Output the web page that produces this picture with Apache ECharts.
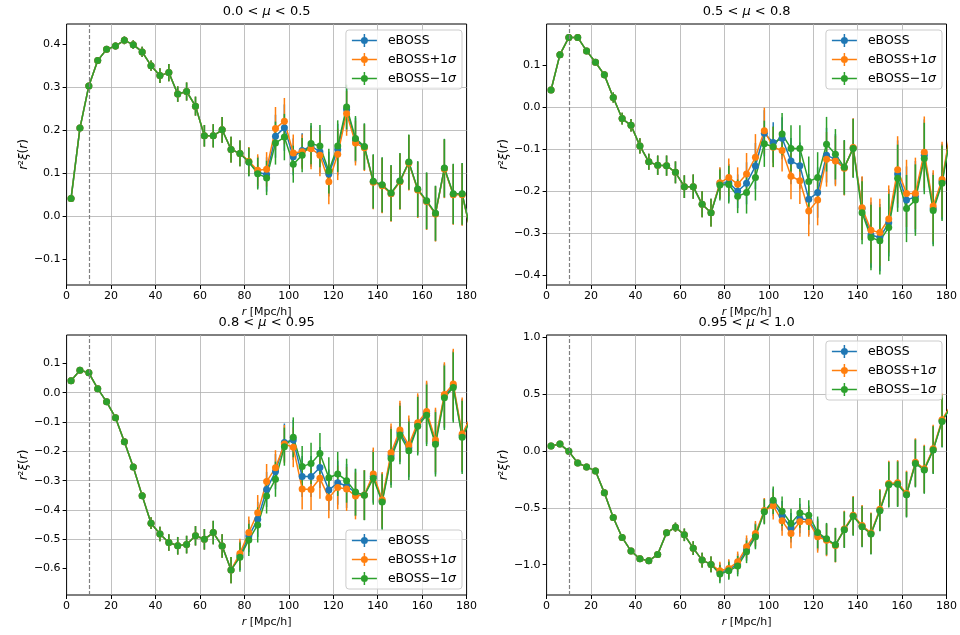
<!DOCTYPE html>
<html>
<head>
<meta charset="utf-8">
<title>r²ξ(r) in μ bins</title>
<script src="https://cdn.jsdelivr.net/npm/echarts@6/dist/echarts.min.js"></script>
<style>
  html, body { margin: 0; padding: 0; background: #fff; }
  #chart { width: 960px; height: 635px; }
</style>
</head>
<body>
<div id="chart"></div>
<script>
// separation bins in Mpc/h (the last one sits just past the axis end)
const rVals = [2, 6, 10, 14, 18, 22, 26, 30, 34, 38, 42, 46, 50, 54, 58, 62, 66, 70, 74, 78, 82, 86, 90,
  94, 98, 102, 106, 110, 114, 118, 122, 126, 130, 134, 138, 142, 146, 150, 154, 158, 162, 166, 170, 174, 178, 182]

const seriesNames = ['eBOSS', 'eBOSS+1σ', 'eBOSS−1σ']
const xTicks = [0, 20, 40, 60, 80, 100, 120, 140, 160, 180]

// 0.0 < mu < 0.5
const mu1Base = [0.040, 0.204, 0.302, 0.361, 0.387, 0.395, 0.408, 0.398, 0.381, 0.349, 0.326, 0.333, 0.283, 0.289, 0.255, 0.186, 0.186, 0.200, 0.154, 0.145, 0.125,
  0.101, 0.096, 0.185, 0.205, 0.137, 0.152, 0.162, 0.149, 0.097, 0.154, 0.247, 0.176, 0.160, 0.079, 0.071, 0.052, 0.080, 0.124, 0.061, 0.034, 0.005, 0.110, 0.050, 0.050, -0.040]
const mu1Plus = [0.040, 0.204, 0.302, 0.361, 0.387, 0.395, 0.408, 0.398, 0.381, 0.349, 0.326, 0.333, 0.283, 0.289, 0.255, 0.186, 0.186, 0.200, 0.154, 0.145, 0.127,
  0.106, 0.108, 0.203, 0.220, 0.146, 0.149, 0.156, 0.141, 0.079, 0.143, 0.238, 0.169, 0.158, 0.078, 0.070, 0.051, 0.079, 0.123, 0.060, 0.033, 0.004, 0.109, 0.049, 0.049, -0.041]
const mu1Minus = [0.040, 0.204, 0.302, 0.361, 0.387, 0.395, 0.408, 0.398, 0.381, 0.349, 0.326, 0.333, 0.283, 0.289, 0.255, 0.186, 0.186, 0.200, 0.154, 0.145, 0.125,
  0.098, 0.088, 0.169, 0.183, 0.120, 0.141, 0.168, 0.162, 0.104, 0.162, 0.253, 0.180, 0.161, 0.080, 0.072, 0.053, 0.081, 0.125, 0.062, 0.035, 0.006, 0.111, 0.051, 0.051, -0.039]
const mu1Err = [0.003, 0.004, 0.005, 0.006, 0.007, 0.008, 0.009, 0.010, 0.012, 0.012, 0.017, 0.020, 0.018, 0.021, 0.022, 0.025, 0.027, 0.030, 0.030, 0.030, 0.033,
  0.037, 0.040, 0.050, 0.054, 0.043, 0.040, 0.048, 0.049, 0.052, 0.060, 0.052, 0.052, 0.054, 0.063, 0.064, 0.065, 0.065, 0.064, 0.065, 0.066, 0.064, 0.068, 0.070, 0.072, 0.075]
const mu1Ticks = [-0.1, 0, 0.1, 0.2, 0.3, 0.4]

// 0.5 < mu < 0.8
const mu2Base = [0.041, 0.125, 0.166, 0.166, 0.134, 0.107, 0.077, 0.023, -0.027, -0.043, -0.092, -0.130, -0.138, -0.139, -0.155, -0.189, -0.189, -0.231, -0.251,
  -0.181, -0.180, -0.200, -0.181, -0.140, -0.062, -0.084, -0.074, -0.128, -0.139, -0.219, -0.203, -0.114, -0.124, -0.144, -0.097, -0.241, -0.304, -0.310, -0.275, -0.159, -0.221, -0.213, -0.114, -0.241, -0.177, -0.055]
const mu2Plus = [0.041, 0.125, 0.166, 0.166, 0.134, 0.107, 0.077, 0.023, -0.027, -0.043, -0.092, -0.130, -0.138, -0.139, -0.155, -0.189, -0.189, -0.231, -0.251,
  -0.180, -0.167, -0.183, -0.159, -0.119, -0.056, -0.095, -0.103, -0.164, -0.175, -0.247, -0.221, -0.124, -0.128, -0.145, -0.096, -0.239, -0.293, -0.298, -0.266, -0.149, -0.205, -0.205, -0.107, -0.235, -0.172, -0.050]
const mu2Minus = [0.041, 0.125, 0.166, 0.166, 0.134, 0.107, 0.077, 0.023, -0.027, -0.043, -0.092, -0.130, -0.138, -0.139, -0.155, -0.189, -0.189, -0.231, -0.251,
  -0.185, -0.184, -0.212, -0.203, -0.167, -0.087, -0.094, -0.064, -0.098, -0.098, -0.177, -0.167, -0.088, -0.112, -0.143, -0.098, -0.251, -0.310, -0.318, -0.286, -0.169, -0.241, -0.221, -0.122, -0.246, -0.181, -0.060]
const mu2Err = [0.003, 0.004, 0.005, 0.005, 0.006, 0.007, 0.008, 0.012, 0.014, 0.015, 0.018, 0.019, 0.023, 0.024, 0.026, 0.027, 0.029, 0.031, 0.033,
  0.037, 0.045, 0.040, 0.050, 0.055, 0.055, 0.048, 0.050, 0.055, 0.055, 0.060, 0.060, 0.065, 0.060, 0.065, 0.070, 0.075, 0.078, 0.080, 0.080, 0.080, 0.080, 0.085, 0.085, 0.085, 0.090, 0.090]
const mu2Ticks = [-0.4, -0.3, -0.2, -0.1, 0, 0.1]

// 0.8 < mu < 0.95
const mu3Base = [0.041, 0.077, 0.068, 0.014, -0.031, -0.085, -0.167, -0.253, -0.351, -0.445, -0.482, -0.511, -0.522, -0.518, -0.488, -0.500, -0.477, -0.523, -0.605,
  -0.555, -0.489, -0.432, -0.330, -0.269, -0.170, -0.161, -0.286, -0.286, -0.255, -0.332, -0.307, -0.318, -0.341, -0.349, -0.285, -0.369, -0.215, -0.135, -0.188, -0.108, -0.070, -0.168, -0.011, 0.024, -0.146, -0.085]
const mu3Plus = [0.041, 0.077, 0.068, 0.014, -0.031, -0.085, -0.167, -0.253, -0.351, -0.445, -0.482, -0.511, -0.522, -0.518, -0.488, -0.500, -0.477, -0.523, -0.605,
  -0.548, -0.477, -0.409, -0.303, -0.256, -0.175, -0.186, -0.328, -0.330, -0.292, -0.358, -0.323, -0.328, -0.352, -0.349, -0.277, -0.365, -0.205, -0.127, -0.178, -0.102, -0.064, -0.161, -0.006, 0.030, -0.141, -0.080]
const mu3Minus = [0.041, 0.077, 0.068, 0.014, -0.031, -0.085, -0.167, -0.253, -0.351, -0.445, -0.482, -0.511, -0.522, -0.518, -0.488, -0.500, -0.477, -0.523, -0.605,
  -0.561, -0.502, -0.451, -0.352, -0.295, -0.184, -0.152, -0.252, -0.241, -0.207, -0.290, -0.277, -0.300, -0.339, -0.350, -0.292, -0.373, -0.224, -0.144, -0.198, -0.114, -0.077, -0.176, -0.017, 0.018, -0.152, -0.090]
const mu3Err = [0.003, 0.003, 0.004, 0.005, 0.005, 0.006, 0.007, 0.008, 0.010, 0.020, 0.025, 0.028, 0.030, 0.030, 0.033, 0.035, 0.040, 0.040, 0.045,
  0.050, 0.055, 0.060, 0.060, 0.060, 0.065, 0.068, 0.070, 0.070, 0.070, 0.070, 0.075, 0.075, 0.080, 0.085, 0.090, 0.095, 0.100, 0.100, 0.100, 0.100, 0.105, 0.110, 0.110, 0.120, 0.125, 0.130]
const mu3Ticks = [-0.6, -0.5, -0.4, -0.3, -0.2, -0.1, 0, 0.1]

// 0.95 < mu < 1.0
const mu4Base = [0.044, 0.061, -0.003, -0.105, -0.140, -0.175, -0.368, -0.585, -0.760, -0.880, -0.947, -0.965, -0.909, -0.719, -0.670, -0.737, -0.854, -0.959, -0.997,
  -1.067, -1.043, -0.993, -0.865, -0.740, -0.529, -0.450, -0.570, -0.675, -0.594, -0.608, -0.735, -0.778, -0.827, -0.690, -0.570, -0.661, -0.725, -0.520, -0.292, -0.287, -0.380, -0.105, -0.161, 0.012, 0.265, 0.395]
const mu4Plus = [0.044, 0.061, -0.003, -0.105, -0.140, -0.175, -0.368, -0.585, -0.760, -0.880, -0.947, -0.965, -0.909, -0.719, -0.670, -0.737, -0.854, -0.959, -0.997,
  -1.053, -1.032, -0.974, -0.842, -0.725, -0.523, -0.482, -0.614, -0.725, -0.623, -0.623, -0.754, -0.785, -0.830, -0.685, -0.565, -0.655, -0.720, -0.513, -0.285, -0.280, -0.373, -0.098, -0.155, 0.020, 0.275, 0.405]
const mu4Minus = [0.044, 0.061, -0.003, -0.105, -0.140, -0.175, -0.368, -0.585, -0.760, -0.880, -0.947, -0.965, -0.909, -0.719, -0.670, -0.737, -0.854, -0.959, -0.997,
  -1.082, -1.053, -1.012, -0.886, -0.754, -0.535, -0.433, -0.529, -0.637, -0.544, -0.564, -0.716, -0.772, -0.825, -0.693, -0.574, -0.666, -0.730, -0.525, -0.297, -0.292, -0.385, -0.110, -0.166, 0.008, 0.260, 0.390]
const mu4Err = [0.005, 0.006, 0.007, 0.008, 0.010, 0.011, 0.012, 0.014, 0.015, 0.017, 0.018, 0.020, 0.022, 0.028, 0.040, 0.055, 0.060, 0.065, 0.070,
  0.080, 0.080, 0.090, 0.100, 0.110, 0.110, 0.120, 0.130, 0.130, 0.130, 0.130, 0.140, 0.140, 0.150, 0.160, 0.170, 0.180, 0.180, 0.180, 0.200, 0.200, 0.200, 0.210, 0.210, 0.210, 0.230, 0.250]
const mu4Ticks = [-1, -0.5, 0, 0.5, 1]

const FONT = 'DejaVu Sans'
const colors = ['#1f77b4', '#ff7f0e', '#2ca02c']
// legend handle: line + marker + error bar, like matplotlib's errorbar legend
const errIcon = 'path://M0,5.75H25V7.25H0Z M11.75,0H13.25V13H11.75Z M9,6.5a3.5,3.5 0 1,1 7,0a3.5,3.5 0 1,1 -7,0Z'

const panels = [
  { title: '0.0 < {i|μ} < 0.5', series: [mu1Base, mu1Plus, mu1Minus], err: mu1Err, ticks: mu1Ticks, step: 0.1, yMin: -0.161, yMax: 0.446,
    grid: { left: 66.6, top: 24, width: 400, height: 261 }, legend: { right: 498, top: 30 } },
  { title: '0.5 < {i|μ} < 0.8', series: [mu2Base, mu2Plus, mu2Minus], err: mu2Err, ticks: mu2Ticks, step: 0.1, yMin: -0.423, yMax: 0.198,
    grid: { left: 546.6, top: 24, width: 400, height: 261 }, legend: { right: 18, top: 30 } },
  { title: '0.8 < {i|μ} < 0.95', series: [mu3Base, mu3Plus, mu3Minus], err: mu3Err, ticks: mu3Ticks, step: 0.1, yMin: -0.690, yMax: 0.197,
    grid: { left: 66.6, top: 335, width: 400, height: 260 }, legend: { right: 498, bottom: 46 } },
  { title: '0.95 < {i|μ} < 1.0', series: [mu4Base, mu4Plus, mu4Minus], err: mu4Err, ticks: mu4Ticks, step: 0.5, yMin: -1.266, yMax: 1.02,
    grid: { left: 546.6, top: 335, width: 400, height: 260 }, legend: { right: 18, top: 341 } }
]

function fmtTick(v) {
  const s = Math.abs(v) < 1e-9 ? '0.0' : v.toFixed(1)
  return s.replace('-', '\u2212')
}

function renderErrorBar(params, api) {
  const lo = api.coord([api.value(0), api.value(1)])
  const hi = api.coord([api.value(0), api.value(2)])
  return {
    type: 'line',
    shape: { x1: lo[0], y1: lo[1], x2: hi[0], y2: hi[1] },
    style: { stroke: api.visual('color'), lineWidth: 1.5 }
  }
}

const italic = { fontStyle: 'italic', fontFamily: FONT, fontSize: 11, color: '#000' }
const italicY = { fontStyle: 'italic', fontFamily: FONT, fontSize: 12, color: '#000' }

const grid = []
const xAxis = []
const yAxis = []
const series = []
const legend = []
const graphic = []

panels.forEach((p, i) => {
  grid.push(Object.assign({ show: true, borderColor: '#000', borderWidth: 1, backgroundColor: '#fff' }, p.grid))
  xAxis.push({
    gridIndex: i,
    type: 'value',
    min: 0,
    max: 180,
    interval: 20,
    axisLine: { show: false, onZero: false },
    axisTick: { length: 4, lineStyle: { color: '#000' }, customValues: xTicks },
    axisLabel: { margin: 6, fontSize: 11, fontFamily: FONT, color: '#000', customValues: xTicks },
    splitLine: { show: true, showMinLine: false, showMaxLine: false, lineStyle: { color: '#b0b0b0', width: 0.8 } },
    name: '{i|r} [Mpc/h]',
    nameLocation: 'middle',
    nameGap: 22,
    nameTextStyle: { fontSize: 11, fontFamily: FONT, color: '#000', rich: { i: italic } }
  })
  yAxis.push({
    gridIndex: i,
    type: 'value',
    min: p.yMin,
    max: p.yMax,
    minInterval: p.step,
    maxInterval: p.step,
    axisLine: { show: false, onZero: false },
    axisTick: { length: 4, lineStyle: { color: '#000' }, customValues: p.ticks },
    axisLabel: { margin: 6, fontSize: 11, fontFamily: FONT, color: '#000', customValues: p.ticks, formatter: fmtTick },
    splitLine: { show: true, showMinLine: false, showMaxLine: false, lineStyle: { color: '#b0b0b0', width: 0.8 } },
    name: '{i|r}²{i|ξ}({i|r})',
    nameLocation: 'middle',
    nameRotate: 90,
    nameGap: 28,
    nameTextStyle: { fontSize: 12, fontFamily: FONT, color: '#000', rich: { i: italicY } }
  })

  p.series.forEach((vals, s) => {
    series.push({
      type: 'custom',
      name: seriesNames[s] + ' err',
      xAxisIndex: i,
      yAxisIndex: i,
      renderItem: renderErrorBar,
      itemStyle: { color: colors[s] },
      encode: { x: 0, y: [1, 2] },
      data: rVals.map((r, k) => [r, vals[k] - p.err[k], vals[k] + p.err[k]]),
      clip: true,
      silent: true,
      animation: false
    })
    const line = {
      type: 'line',
      name: seriesNames[s],
      xAxisIndex: i,
      yAxisIndex: i,
      data: rVals.map((r, k) => [r, vals[k]]),
      symbol: 'circle',
      symbolSize: 7,
      showAllSymbol: true,
      lineStyle: { width: 1.5, color: colors[s] },
      itemStyle: { color: colors[s] },
      clip: true,
      silent: true,
      animation: false
    }
    if (s === 0) {
      line.markLine = {
        silent: true,
        symbol: ['none', 'none'],
        label: { show: false },
        lineStyle: { color: '#808080', type: [4, 2], width: 1.2 },
        data: [{ xAxis: 10 }],
        animation: false
      }
    }
    series.push(line)
  })

  legend.push(Object.assign({
    orient: 'vertical',
    data: seriesNames,
    selectedMode: false,
    icon: errIcon,
    itemWidth: 25,
    itemHeight: 13,
    itemGap: 4,
    padding: [3, 6, 3, 6],
    backgroundColor: 'rgba(255,255,255,0.8)',
    borderColor: '#cccccc',
    borderWidth: 1,
    borderRadius: 3,
    formatter: name => name.replace('σ', '{i|σ}'),
    textStyle: {
      fontSize: 12.5,
      fontFamily: FONT,
      color: '#000',
      lineHeight: 15,
      padding: [0, 0, 0, 6],
      rich: { i: { fontStyle: 'italic', fontSize: 12.5, fontFamily: FONT, color: '#000' } }
    }
  }, p.legend))

  graphic.push({
    type: 'text',
    x: p.grid.left + p.grid.width / 2,
    y: p.grid.top - 12,
    style: {
      text: p.title,
      align: 'center',
      verticalAlign: 'middle',
      fontSize: 13,
      fontFamily: FONT,
      fill: '#000',
      rich: { i: { fontStyle: 'italic', fontSize: 13, fontFamily: FONT, fill: '#000' } }
    }
  })
})

const chart = echarts.init(document.getElementById('chart'))
chart.setOption({
  animation: false,
  backgroundColor: '#fff',
  grid: grid,
  xAxis: xAxis,
  yAxis: yAxis,
  legend: legend,
  graphic: graphic,
  series: series
})
</script>
</body>
</html>
